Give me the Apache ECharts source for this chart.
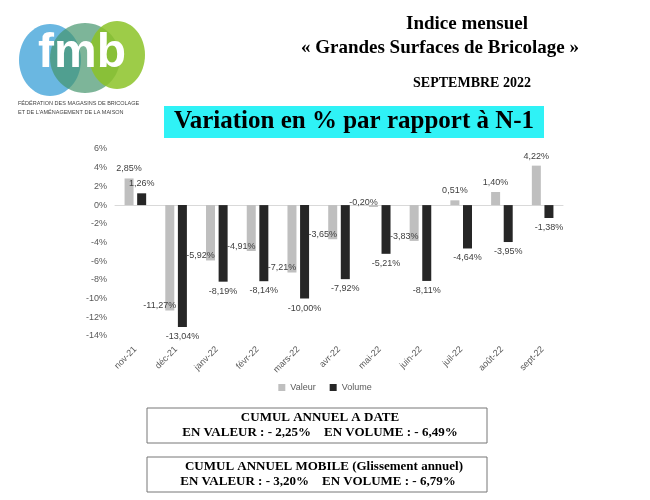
<!DOCTYPE html><html><head><meta charset="utf-8">
<script src="https://cdn.jsdelivr.net/npm/echarts@6/dist/echarts.min.js"></script>
<style>body{margin:0;background:#fff}#c{width:650px;height:500px}</style></head><body><div id="c"></div>
<script>
const categories=['nov-21','déc-21','janv-22','févr-22','mars-22','avr-22','mai-22','juin-22','juil-22','août-22','sept-22'];
const valeur=[2.85,-11.27,-5.92,-4.91,-7.21,-3.65,-0.20,-3.83,0.51,1.40,4.22];
const volume=[1.26,-13.04,-8.19,-8.14,-10.00,-7.92,-5.21,-8.11,-4.64,-3.95,-1.38];
const fmt=v=>v.toFixed(2).replace('.',',')+'%';
const mk=(arr,off)=>arr.map(v=>({value:v,label:{position:v>=0?'top':'bottom',offset:v>=0?[0,0]:off}}));
const serif='Liberation Serif';
const ch=echarts.init(document.getElementById('c'));
ch.setOption({
 animation:false,
 grid:{left:115,right:87,top:149,bottom:164},
 legend:{bottom:103,left:'center',itemWidth:7,itemHeight:7,itemGap:14,icon:'rect',textStyle:{fontSize:9,color:'#595959',fontFamily:'Liberation Sans'},data:['Valeur','Volume']},
 xAxis:{type:'category',data:categories,axisTick:{show:false},axisLine:{lineStyle:{color:'#d9d9d9'}},axisLabel:{rotate:45,fontSize:9,color:'#595959',interval:0,margin:12}},
 yAxis:{type:'value',min:-14,max:6,interval:2,splitLine:{show:false},axisLabel:{fontSize:9,color:'#595959',formatter:v=>v+'%'}},
 series:[
  {name:'Valeur',type:'bar',data:mk(valeur,[-10,-14]),itemStyle:{color:'#bfbfbf'},barWidth:9,barGap:'40%',label:{show:true,fontSize:9,color:'#404040',formatter:p=>fmt(p.value)}},
  {name:'Volume',type:'bar',data:mk(volume,[0,0]),itemStyle:{color:'#262626'},barWidth:9,label:{show:true,fontSize:9,color:'#404040',formatter:p=>fmt(p.value)}}
 ],
 graphic:[
  {type:'ellipse',shape:{cx:50,cy:60,rx:31,ry:36},style:{fill:'rgba(80,170,220,0.85)'}},
  {type:'ellipse',shape:{cx:85,cy:58,rx:35,ry:35},style:{fill:'rgba(70,150,110,0.7)'}},
  {type:'ellipse',shape:{cx:117,cy:55,rx:28,ry:34},style:{fill:'rgba(140,195,40,0.85)'}},
  {type:'text',left:38,top:30,style:{text:'fmb',font:'bold 48px "Liberation Sans"',fill:'#fff'}},
  {type:'text',left:18,top:99,style:{text:'FÉDÉRATION DES MAGASINS DE BRICOLAGE\nET DE L\'AMÉNAGEMENT DE LA MAISON',font:'5.5px "Liberation Sans"',fill:'#444',lineHeight:9}},
  {type:'text',x:467,y:15,style:{text:'Indice mensuel',font:'bold 19px "'+serif+'"',fill:'#000',align:'center'}},
  {type:'text',x:440,y:39,style:{text:'« Grandes Surfaces de Bricolage »',font:'bold 19px "'+serif+'"',fill:'#000',align:'center'}},
  {type:'text',x:472,y:76,style:{text:'SEPTEMBRE 2022',font:'bold 14px "'+serif+'"',fill:'#000',align:'center'}},
  {type:'rect',shape:{x:164,y:106,width:380,height:32},style:{fill:'#2ff2f6'}},
  {type:'text',x:354,y:109,style:{text:'Variation en % par rapport à N-1',font:'bold 25px "'+serif+'"',fill:'#000',align:'center'}},
  {type:'rect',shape:{x:147,y:408,width:340,height:35},style:{fill:'none',stroke:'#777',lineWidth:1}},
  {type:'text',x:320,y:411,style:{text:'CUMUL ANNUEL A DATE',font:'bold 13px "'+serif+'"',fill:'#000',align:'center'}},
  {type:'text',x:320,y:426,style:{text:'EN VALEUR : - 2,25%    EN VOLUME : - 6,49%',font:'bold 13px "'+serif+'"',fill:'#000',align:'center'}},
  {type:'rect',shape:{x:147,y:457,width:340,height:35},style:{fill:'none',stroke:'#777',lineWidth:1}},
  {type:'text',x:324,y:460,style:{text:'CUMUL ANNUEL MOBILE (Glissement annuel)',font:'bold 13px "'+serif+'"',fill:'#000',align:'center'}},
  {type:'text',x:318,y:475,style:{text:'EN VALEUR : - 3,20%    EN VOLUME : - 6,79%',font:'bold 13px "'+serif+'"',fill:'#000',align:'center'}}
 ]
});
</script></body></html>
